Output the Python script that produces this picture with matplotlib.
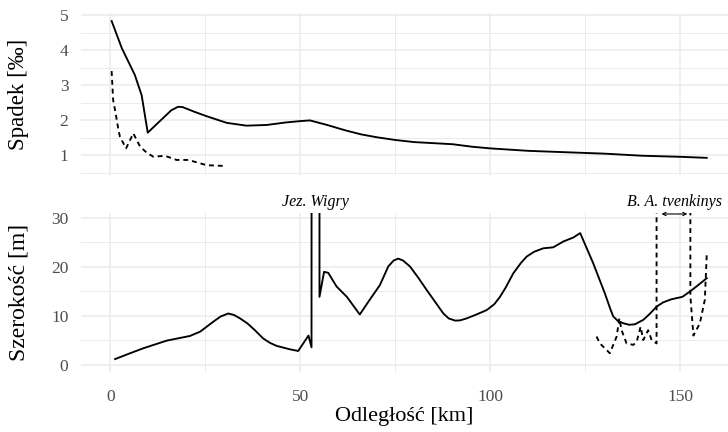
import numpy as np
import matplotlib.pyplot as plt
from matplotlib.ticker import MultipleLocator

plt.rcParams['font.family'] = ['Liberation Serif', 'DejaVu Serif']

# spadek (slope) along the river, main river and tributary
spadek_km = [0.3, 3.0, 6.4, 8.2, 9.8, 16.0, 17.8, 19.0, 22.0, 25.3, 30.6, 35.8, 41.1, 46.0,
             49.9, 52.5, 57.0, 62.0, 66.0, 70.0, 75.0, 80.0, 85.0, 90.0, 95.0, 100.0,
             110.0, 120.0, 130.0, 140.0, 150.0, 156.9]
spadek = [4.83, 4.05, 3.29, 2.71, 1.64, 2.28, 2.38, 2.37, 2.24, 2.11, 1.92, 1.84, 1.86, 1.93,
          1.97, 1.99, 1.86, 1.70, 1.59, 1.51, 1.43, 1.37, 1.34, 1.31, 1.24, 1.19,
          1.12, 1.08, 1.04, 0.98, 0.95, 0.92]

spadek2_km = [0.3, 0.7, 1.2, 2.1, 2.5, 4.1, 6.0, 7.8, 9.5, 11.3, 14.3, 17.4, 20.5, 25.3, 29.7]
spadek2 = [3.4, 2.57, 2.29, 1.71, 1.52, 1.19, 1.62, 1.24, 1.07, 0.95, 0.98, 0.86, 0.86, 0.71, 0.69]

# szerokość (width); lake sections run far above the axis limit
szer_km = [1.2, 4.5, 8.6, 14.8, 20.9, 23.6, 27.0, 29.0, 31.0, 32.5, 34.1, 36.0, 38.0, 40.2,
           42.0, 43.7, 47.2, 49.4, 52.1, 52.9, 53.1, 55.0, 55.0, 56.2, 57.3, 59.5, 62.2,
           65.6, 68.3, 70.9, 73.1, 74.5, 75.7, 77.0, 78.8, 81.0, 83.2, 85.5, 87.6, 89.0,
           90.7, 92.0, 93.7, 96.0, 99.0, 101.0, 102.5, 104.0, 106.0, 108.0, 109.5, 111.5,
           113.9, 116.5, 119.2, 121.8, 123.6, 127.0, 130.1, 131.5, 132.3, 133.5, 135.0,
           136.5, 138.0, 140.2, 142.0, 143.7, 145.5, 147.6, 150.5, 152.5, 154.5, 156.9]
szer = [1.2, 2.2, 3.4, 4.97, 5.92, 6.8, 8.8, 9.9, 10.5, 10.2, 9.5, 8.5, 7.1, 5.4,
        4.5, 3.9, 3.2, 2.86, 6.0, 3.6, 500, 500, 13.9, 19.0, 18.8, 16.0, 13.9,
        10.3, 13.4, 16.3, 20.1, 21.3, 21.7, 21.3, 20.1, 17.8, 15.3, 12.8, 10.5, 9.5,
        9.05, 9.1, 9.5, 10.2, 11.2, 12.4, 13.9, 15.8, 18.7, 20.8, 22.1, 23.1,
        23.8, 24.0, 25.2, 26.0, 26.9, 20.8, 14.6, 11.5, 9.9, 9.0, 8.5,
        8.2, 8.3, 9.2, 10.5, 11.9, 12.8, 13.4, 13.9, 15.0, 16.2, 17.7]

szer2_km = [127.9, 128.8, 131.4, 133.2, 133.9, 134.5, 135.8, 137.6, 138.5, 139.5, 140.2,
            141.5, 142.4, 143.7, 143.75, 152.5, 152.6, 153.4, 155.1, 156.4, 156.9]
szer2 = [5.8, 4.4, 2.4, 5.8, 9.5, 7.1, 4.4, 4.1, 4.8, 7.8, 5.1,
         7.1, 5.1, 4.4, 500, 500, 14.0, 6.0, 8.5, 13.3, 22.4]

grid_c = '#ebebeb'
tick_c = '#4d4d4d'
dash = (0, (2.6, 2.1))

fig = plt.figure(figsize=(7.28, 4.32), dpi=100)
ax1 = fig.add_axes([81 / 728, 1 - 175 / 432, 647 / 728, 162 / 432])
ax2 = fig.add_axes([81 / 728, 1 - 372 / 432, 647 / 728, 159 / 432])

ax1.plot(spadek_km, spadek, color='black', lw=1.35)
ax1.plot(spadek2_km, spadek2, color='black', lw=1.35, linestyle=dash)
ax2.plot(szer_km, szer, color='black', lw=1.35)
ax2.plot(szer2_km, szer2, color='black', lw=1.35, linestyle=dash)

for ax in (ax1, ax2):
    ax.set_xlim(-7.76, 162.5)
    ax.xaxis.set_major_locator(MultipleLocator(50))
    ax.xaxis.set_minor_locator(MultipleLocator(25))
    ax.grid(True, which='major', color=grid_c, lw=1.1)
    ax.grid(True, which='minor', color=grid_c, lw=0.7)
    ax.set_axisbelow(True)
    for s in ax.spines.values():
        s.set_visible(False)
    ax.tick_params(which='both', length=0, labelsize=12.5, labelcolor=tick_c)
    ax.tick_params(axis='y', pad=9)
    ax.tick_params(axis='x', pad=12)

ax1.set_ylim(0.43, 5.06)
ax1.yaxis.set_major_locator(MultipleLocator(1))
ax1.yaxis.set_minor_locator(MultipleLocator(0.5))
ax1.tick_params(axis='x', labelbottom=False)
ax1.set_ylabel('Spadek [‰]', fontsize=16.5)
ax1.yaxis.set_label_coords(-0.08, 0.5)

ax2.set_ylim(-1.43, 31.0)
ax2.yaxis.set_major_locator(MultipleLocator(10))
ax2.yaxis.set_minor_locator(MultipleLocator(5))
ax2.set_ylabel('Szerokość [m]', fontsize=17)
ax2.yaxis.set_label_coords(-0.08, 0.5)
ax2.set_xlabel('Odległość [km]', fontsize=16, labelpad=2)

ax2.text(54, 33.3, 'Jez. Wigry', style='italic', fontsize=11.5,
         ha='center', va='center', clip_on=False)
ax2.text(148.5, 33.3, 'B. A. tvenkinys', style='italic', fontsize=11.5,
         ha='center', va='center', clip_on=False)
ax2.annotate('', xy=(145.0, 30.8), xytext=(151.8, 30.8),
             arrowprops=dict(arrowstyle='<->', lw=0.8, color='black',
                             shrinkA=0, shrinkB=0, mutation_scale=6),
             annotation_clip=False)

fig.savefig('out.png', dpi=100)
